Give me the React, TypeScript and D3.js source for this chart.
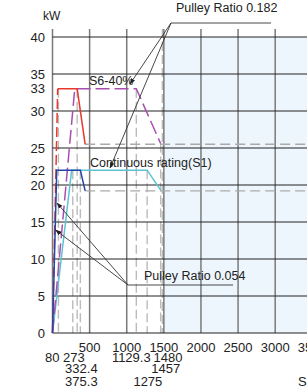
import React from "react";
import * as d3 from "d3";

const yGridValues = [0, 5, 10, 15, 20, 25, 30, 35, 40];
const yTickLabels = [0, 5, 10, 15, 20, 22, 25, 30, 33, 35, 40];
const xGridValues = [0, 500, 1000, 1500, 2000, 2500, 3000, 3500];
const xMainTicks = [500, 1000, 1500, 2000, 2500, 3000, 3500];
// extra speed labels: [text, row, left-x anchor speed]
const xExtraLabels: [string, number, number][] = [
  ["80", 1, -100],
  ["273", 1, 142],
  ["1129.3", 1, 800],
  ["1480", 1, 1360],
  ["332.4", 2, 170],
  ["1457", 2, 1330],
  ["375.3", 2 + 1, 170],
  ["1275", 3, 1090],
];
const dashedSpeeds: [number, number][] = [
  [80, 33],
  [273, 22],
  [332.4, 33],
  [375.3, 22],
  [1129.3, 33],
  [1275, 22],
  [1457, 25.6],
  [1480, 41],
];
const dashedPowers = [25.5, 19.2];
const dashedPowerStart = 440;

const redS6Rise: [number, number][] = [[0, 0], [70, 33]];
const redS6: [number, number][] = [[70, 33], [332.4, 33], [440, 25.5]];
const blueS1: [number, number][] = [[0, 0], [57, 22], [375.3, 22], [440, 19.2]];
const purpleS6: [number, number][] = [[0, 0], [300, 33], [1129.3, 33], [1457, 25.6]];
const cyanS1: [number, number][] = [[0, 0], [258, 22], [1275, 22], [1457, 19.3]];

const W = 307;
const H = 391;
const FONT = "'Liberation Sans Narrow', 'Arial Narrow', 'Liberation Sans', Arial, sans-serif";

export default function App() {
  const x = d3.scaleLinear().domain([0, 3500]).range([52.5, 52.5 + 3500 * 0.07423]);
  const y = d3.scaleLinear().domain([0, 40]).range([333, 37]);
  const line = d3
    .line<[number, number]>()
    .x((d) => x(d[0]))
    .y((d) => y(d[1]));

  const rowY = [352, 362, 373, 386];

  return (
    <svg
      width={W}
      height={H}
      style={{ position: "absolute", left: 0, top: 0, background: "#fff" }}
      fontFamily={FONT}
    >
      <defs>
        <marker id="arr" viewBox="0 0 10 10" refX="9" refY="5" markerWidth="7" markerHeight="7" orient="auto">
          <path d="M0,1.5 L10,5 L0,8.5 z" fill="#222" />
        </marker>
      </defs>
      {/* shaded region */}
      <rect x={x(1500)} y={y(40)} width={W - x(1500)} height={y(0) - y(40)} fill="#eef6fd" />

      {/* dashed verticals */}
      {dashedSpeeds.map(([s, p], i) => (
        <line
          key={"dv" + i}
          x1={x(s)}
          x2={x(s)}
          y1={p > 40 ? 29 : y(p)}
          y2={y(0)}
          stroke="#bbb"
          strokeWidth={1.4}
          strokeDasharray="9,4"
        />
      ))}

      {/* vertical grid */}
      {xGridValues.map((v) => (
        <line key={"vg" + v} x1={x(v)} x2={x(v)} y1={29} y2={y(0)} stroke="#7a7a7a" strokeWidth={1.5} />
      ))}

      {/* dashed horizontals */}
      {dashedPowers.map((p) => (
        <line
          key={"dh" + p}
          x1={x(dashedPowerStart)}
          x2={W}
          y1={y(p)}
          y2={y(p)}
          stroke="#aaa"
          strokeWidth={1.4}
          strokeDasharray="10,5"
        />
      ))}

      {/* horizontal grid */}
      {yGridValues.map((v) => (
        <line key={"hg" + v} x1={x(0)} x2={W} y1={y(v)} y2={y(v)} stroke="#222" strokeWidth={1} />
      ))}

      {/* curves */}
      <path d={line(cyanS1) || ""} fill="none" stroke="#5bc3d4" strokeWidth={1.5} />
      <path d={line(purpleS6) || ""} fill="none" stroke="#a84fb0" strokeWidth={1.5} strokeDasharray="14,5" />
      <path d={line(redS6Rise) || ""} fill="none" stroke="#e8382c" strokeWidth={1.5} strokeDasharray="10,4" />
      <path d={line(redS6) || ""} fill="none" stroke="#e8382c" strokeWidth={1.5} />
      <path d={line(blueS1) || ""} fill="none" stroke="#2344a8" strokeWidth={1.5} />

      {/* y tick labels */}
      {yTickLabels.map((v) => (
        <text key={"yl" + v} x={45} y={y(v)} dy="0.35em" textAnchor="end" fontSize={13} fill="#222">
          {v}
        </text>
      ))}
      <text x={43} y={20} fontSize={12} fill="#222">
        kW
      </text>

      {/* x tick labels */}
      {xMainTicks.map((v) => (
        <text key={"xl" + v} x={x(v)} y={rowY[0]} textAnchor="middle" fontSize={13} fill="#222">
          {v}
        </text>
      ))}
      {xExtraLabels.map(([t, r, s], i) => (
        <text key={"xe" + i} x={x(s)} y={rowY[r]} fontSize={13} fill="#222">
          {t}
        </text>
      ))}
      <text x={298} y={386} fontSize={13} fill="#222">
        SPEED
      </text>

      {/* annotations */}
      <text x={89} y={85} fontSize={12.5} fill="#222">
        S6-40%
      </text>
      <text x={90} y={167} fontSize={12.5} fill="#222">
        Continuous rating(S1)
      </text>
      <text x={176} y={12} fontSize={12.5} fill="#222">
        Pulley Ratio 0.182
      </text>
      <line x1={171} x2={271} y1={23} y2={23} stroke="#333" strokeWidth={0.9} />
      <line x1={171} y1={23} x2={130} y2={84} stroke="#333" strokeWidth={0.9} markerEnd="url(#arr)" />
      <line x1={171} y1={23} x2={110} y2={168} stroke="#333" strokeWidth={0.9} markerEnd="url(#arr)" />

      <text x={144} y={280} fontSize={12.5} fill="#222">
        Pulley Ratio  0.054
      </text>
      <line x1={128} x2={233} y1={285} y2={285} stroke="#333" strokeWidth={0.9} />
      <line x1={128} y1={285} x2={57} y2={203} stroke="#333" strokeWidth={0.9} markerEnd="url(#arr)" />
      <line x1={128} y1={285} x2={55.5} y2={230} stroke="#333" strokeWidth={0.9} markerEnd="url(#arr)" />
    </svg>
  );
}
